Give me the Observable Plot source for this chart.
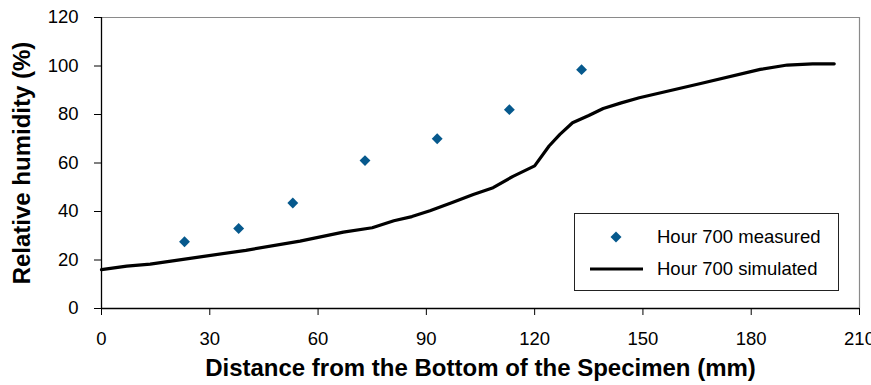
<!DOCTYPE html>
<html>
<head>
<meta charset="utf-8">
<script src="https://cdn.jsdelivr.net/npm/d3@7"></script>
<script src="https://cdn.jsdelivr.net/npm/@observablehq/plot@0.6"></script>
<style>
  body { margin: 0; background: #fff; }
  #chart { position: relative; width: 871px; height: 385px; font-family: "Liberation Sans", Arial, sans-serif; }
  #legend { position: absolute; left: 574px; top: 213px; width: 265px; height: 78px; }
</style>
</head>
<body>
<div id="chart"></div>
<script>
// Measured relative humidity at hour 700
const measuredDistance = [23, 38, 53, 73, 93, 113, 133];
const measuredRH = [27.5, 33, 43.5, 61, 70, 82, 98.5];

// Simulated profile at hour 700
const simulatedDistance = [0, 7, 13.5, 25, 40, 55, 67, 75, 81, 86, 91, 97, 103, 108.5, 114, 120, 124, 127, 130.5, 135, 139, 144, 149, 166, 182.5, 190, 197, 203];
const simulatedRH = [16, 17.5, 18.3, 20.8, 24, 27.8, 31.5, 33.3, 36.2, 37.9, 40.3, 43.6, 47, 49.8, 54.5, 58.8, 67, 71.8, 76.6, 79.6, 82.5, 84.8, 86.9, 92.8, 98.6, 100.4, 100.9, 100.9];

const xTicks = [0, 30, 60, 90, 120, 150, 180, 210];
const yTicks = [0, 20, 40, 60, 80, 100, 120];
const xTitle = "Distance from the Bottom of the Specimen (mm)";
const yTitle = "Relative humidity (%)";
const seriesNames = ["Hour 700 measured", "Hour 700 simulated"];
const measuredColor = "#06598d";
const font = '"Liberation Sans", Arial, sans-serif';

const measured = measuredDistance.map((x, i) => ({x, y: measuredRH[i]}));
const simulated = simulatedDistance.map((x, i) => ({x, y: simulatedRH[i]}));

const plot = Plot.plot({
  width: 871,
  height: 385,
  marginLeft: 101,
  marginRight: 12,
  marginTop: 17,
  marginBottom: 77,
  style: {fontFamily: font, fontSize: "18.5px", color: "#000", background: "#fff", overflow: "visible"},
  x: {domain: [0, 210]},
  y: {domain: [0, 120]},
  marks: [
    Plot.ruleY([120], {stroke: "#8a8a8a", strokeWidth: 1.2}),
    Plot.ruleX([210], {stroke: "#8a8a8a", strokeWidth: 1.2}),
    Plot.axisX({ticks: xTicks, tickSize: 7, tickPadding: 16, tickFormat: d => String(d), label: null, stroke: "#000", fontSize: 18.5}),
    Plot.axisY({ticks: yTicks, tickSize: 7, tickPadding: 16, tickFormat: d => String(d), label: null, stroke: "#000", fontSize: 18.5}),
    Plot.ruleX([0], {stroke: "#000", strokeWidth: 1.3}),
    Plot.ruleY([0], {stroke: "#000", strokeWidth: 1.3}),
    Plot.line(simulated, {x: "x", y: "y", stroke: "#000", strokeWidth: 3.2, strokeLinejoin: "round", strokeLinecap: "round"}),
    Plot.dot(measured, {x: "x", y: "y", symbol: "diamond2", r: 4.9, fill: measuredColor, stroke: "none"}),
    Plot.text([xTitle], {frameAnchor: "bottom", dy: 67, textAnchor: "middle", fontSize: 24, fontWeight: "bold", fill: "#000"}),
    Plot.text([yTitle], {frameAnchor: "left", dx: -79, textAnchor: "middle", rotate: -90, fontSize: 24, fontWeight: "bold", fill: "#000"})
  ]
});

const chart = document.getElementById("chart");
chart.append(plot);

// Legend box inside the plot area
const legend = document.createElement("div");
legend.id = "legend";
const ns = "http://www.w3.org/2000/svg";
const lsvg = document.createElementNS(ns, "svg");
lsvg.setAttribute("width", 265);
lsvg.setAttribute("height", 78);
lsvg.style.fontFamily = font;
lsvg.innerHTML = `
  <rect x="0.5" y="0.5" width="264" height="77" fill="#fff" stroke="#222" stroke-width="1"/>
  <path d="M42,18.5L47.5,24L42,29.5L36.5,24Z" fill="${measuredColor}"/>
  <line x1="16" y1="56" x2="69" y2="56" stroke="#000" stroke-width="3.2"/>
  <text x="83" y="24" dy="0.35em" font-size="18.5" fill="#000">${seriesNames[0]}</text>
  <text x="83" y="56" dy="0.35em" font-size="18.5" fill="#000">${seriesNames[1]}</text>`;
legend.append(lsvg);
chart.append(legend);
</script>
</body>
</html>
